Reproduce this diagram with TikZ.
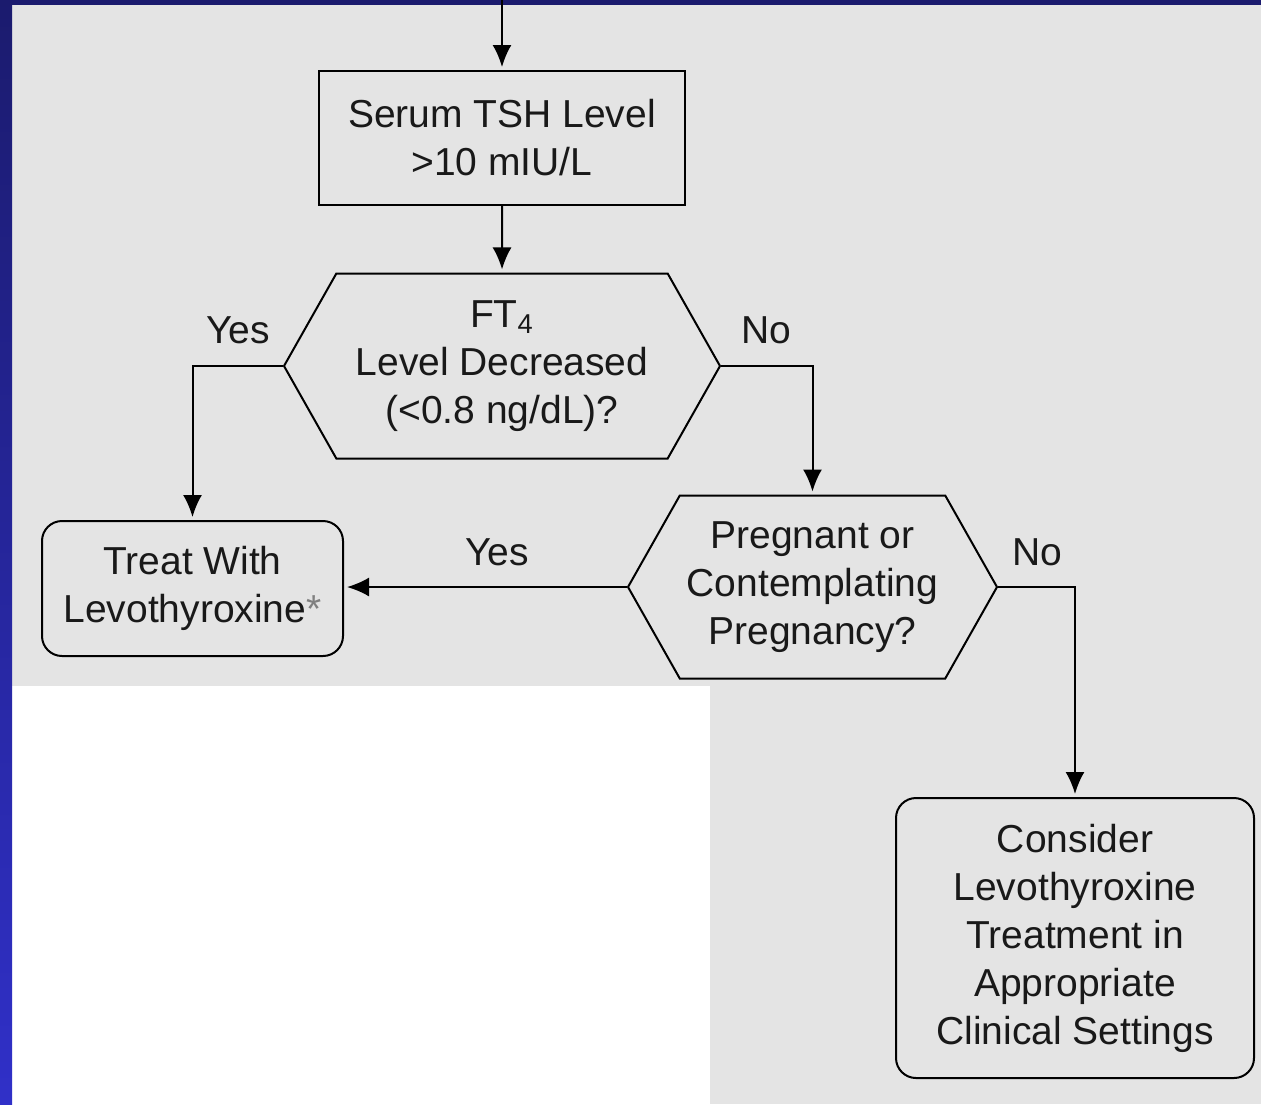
\documentclass[tikz,border=0pt]{standalone}
\usepackage{fontspec}
\setmainfont{Liberation Sans}
\usetikzlibrary{arrows.meta,shapes.symbols}
\definecolor{panelgray}{HTML}{E4E4E4}
\definecolor{navytop}{HTML}{1B1B6E}
\definecolor{bluebot}{HTML}{3030C8}
\begin{document}
\begin{tikzpicture}[x=0.5pt,y=-0.5pt,
	every node/.style={font=\fontsize{19.5}{24}\selectfont, text=black!90},
	plainbox/.style={draw, line width=1pt, align=center, inner sep=0pt},
	roundbox/.style={plainbox, rounded corners=10pt},
	hexbox/.style={plainbox, signal, signal to=west and east, signal pointer angle=121},
	arr/.style={-{Latex[length=11pt,width=9.5pt]}, line width=1pt, shorten >=1.5pt}]
	\useasboundingbox (0,0) rectangle (1261,1104);
	% background
	\fill[panelgray] (0,0) rectangle (1261,1104);
	\fill[white] (12,686) rectangle (710,1104);
	\shade[top color=navytop, bottom color=bluebot] (0,0) rectangle (12,1104);
	\fill[navytop] (0,0) rectangle (1261,5);
	% boxes
	\coordinate (start) at (502,0);
	\node[plainbox, minimum width=183pt, minimum height=67pt] (tsh) at (502,138) {Serum TSH Level\\>10 mIU/L};
	\node[hexbox, minimum width=218pt, minimum height=92.5pt] (ft4) at (502,366) {FT\textsubscript{4}\\Level Decreased\\(<0.8 ng/dL)?};
	\node[hexbox, minimum width=184.5pt, minimum height=91.5pt] (preg) at (812.5,587) {Pregnant or\\Contemplating\\Pregnancy?};
	\node[roundbox, minimum width=150.5pt, minimum height=67.5pt] (treat) at (192.5,588.5) {Treat With\\Levothyroxine{\color{gray}*}};
	\node[roundbox, minimum width=179pt, minimum height=140pt] (consider) at (1075,938) {Consider\\Levothyroxine\\Treatment in\\Appropriate\\Clinical Settings};
	% answers
	\node (yes1) at (238,330) {Yes};
	\node (no1) at (766,330) {No};
	\node (yes2) at (497,552) {Yes};
	\node (no2) at (1037,552) {No};
	% arrows
	\draw[arr] (start) -- (tsh);
	\draw[arr] (tsh) -- (ft4);
	\draw[arr] (ft4.west) -| (treat.north);
	\draw[arr] (ft4.east) -| (preg.north);
	\draw[arr] (preg.west) -- (preg.west -| treat.east);
	\draw[arr] (preg.east) -| (consider.north);
\end{tikzpicture}
\end{document}
